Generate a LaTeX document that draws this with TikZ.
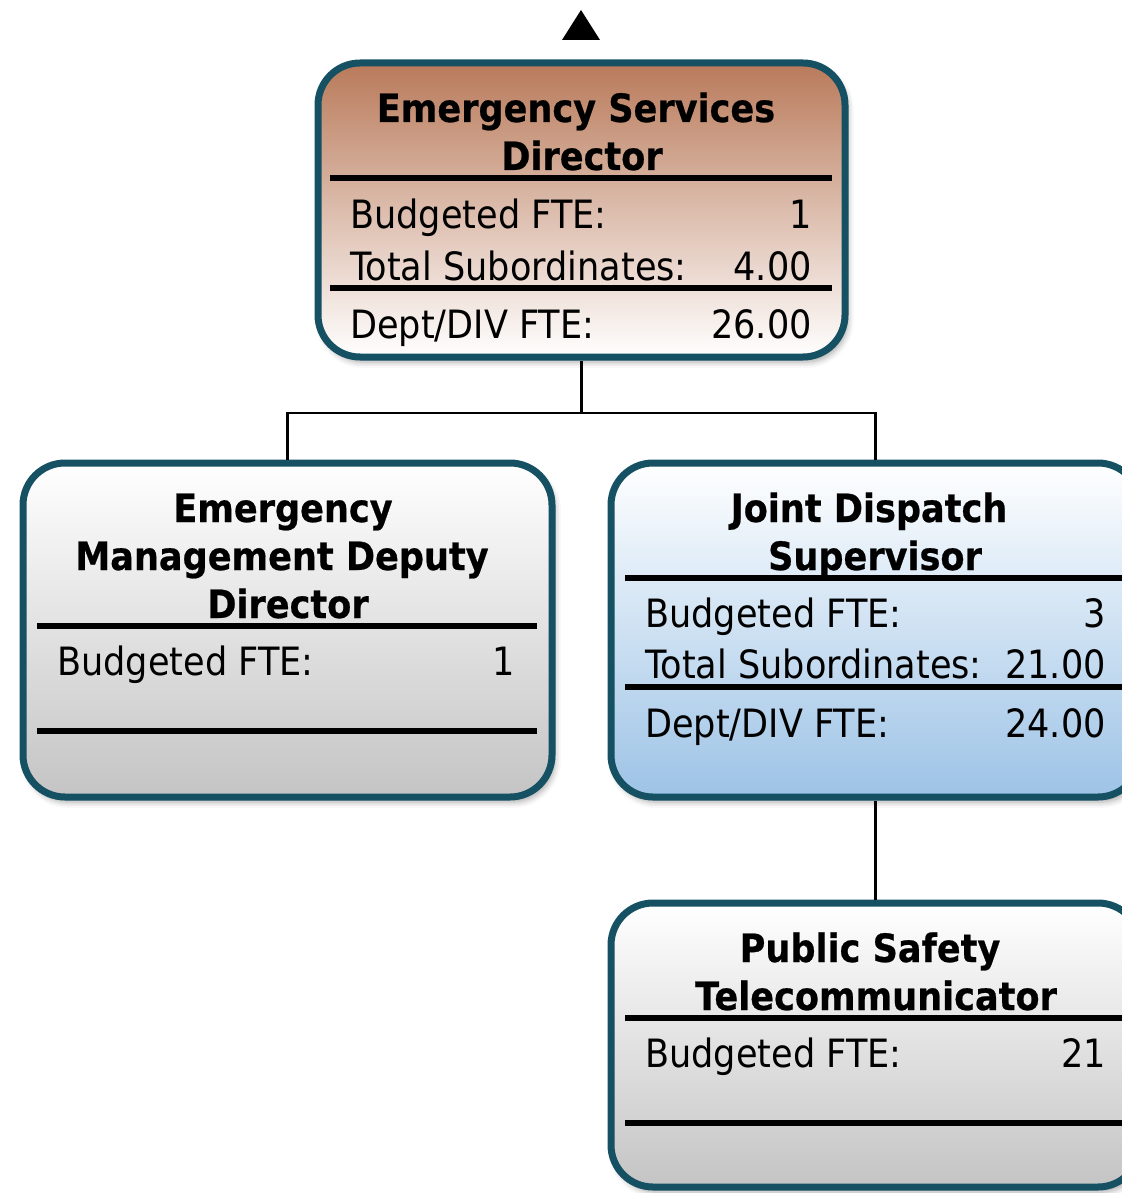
\documentclass[tikz,border=0pt]{standalone}
\usepackage{fontspec}
\setmainfont{DejaVu Sans}[FakeStretch=0.9, BoldFeatures={FakeBold=0.6}]
\usetikzlibrary{shadows.blur}
\definecolor{bord}{RGB}{21,80,99}
\definecolor{brtop}{RGB}{185,122,90}
\definecolor{bluebot}{RGB}{157,195,230}
\definecolor{greybot}{RGB}{196,196,196}
\begin{document}
\begin{tikzpicture}[x=1pt,y=-1pt,
  box/.style={draw=bord, line width=7pt, rounded corners=42pt, inner sep=0pt,
    minimum width=529pt,
    blur shadow={shadow xshift=3pt, shadow yshift=-5pt, shadow blur radius=6pt, shadow opacity=35}},
  rulel/.style={line width=6pt, black},
  ttl/.style={font=\fontsize{39}{47}\selectfont\bfseries, anchor=base, inner sep=0pt},
  lbl/.style={font=\fontsize{39}{47}\selectfont, anchor=base west, inner sep=0pt},
  val/.style={font=\fontsize{39}{47}\selectfont, anchor=base east, inner sep=0pt},
  conn/.style={line width=2.5pt, black}]
\useasboundingbox (0,0) rectangle (1121,1193);
\fill[black] (562,40) -- (581,10) -- (600,40) -- cycle;
% boxes
\node[box, top color=brtop, bottom color=white, minimum width=527pt, minimum height=294pt] (dir) at (581.5,210) {};
\node[box, top color=white, bottom color=greybot, minimum height=334pt] (dep) at (287.5,630) {};
\node[box, top color=white, bottom color=bluebot, minimum height=334pt] (sup) at (875.5,630) {};
\node[box, top color=white, bottom color=greybot, minimum height=284pt] (tel) at (875.5,1045) {};
% connectors
\coordinate (j) at (581.5,413);
\draw[conn] (dir.south) -- (j);
\draw[conn] (dep.north) |- (j) -| (sup.north);
\draw[conn] (sup.south) -- (tel.north);
% director
\node[ttl] (d1) at (576,122) {Emergency Services};
\node[ttl] (d2) at (582,170) {Director};
\draw[rulel] (330,178) -- (832,178);
\node[lbl] (d3) at (350,228) {Budgeted FTE:};
\node[val] (d4) at (812,228) {1};
\node[lbl] (d5) at (350,280) {Total Subordinates:};
\node[val] (d6) at (812,280) {4.00};
\draw[rulel] (330,288) -- (832,288);
\node[lbl] (d7) at (350,338) {Dept/DIV FTE:};
\node[val] (d8) at (812,338) {26.00};
% deputy
\node[ttl] (e1) at (283,522) {Emergency};
\node[ttl] (e2) at (282,570) {Management Deputy};
\node[ttl] (e3) at (288,618) {Director};
\draw[rulel] (37,626) -- (537,626);
\node[lbl] (e4) at (57,675) {Budgeted FTE:};
\node[val] (e5) at (515,675) {1};
\draw[rulel] (37,731) -- (537,731);
% supervisor
\node[ttl] (s1) at (869,522) {Joint Dispatch};
\node[ttl] (s2) at (875,570) {Supervisor};
\draw[rulel] (625,578) -- (1126,578);
\node[lbl] (s3) at (645,627) {Budgeted FTE:};
\node[val] (s4) at (1106,627) {3};
\node[lbl] (s5) at (645,678) {Total Subordinates:};
\node[val] (s6) at (1106,678) {21.00};
\draw[rulel] (625,687) -- (1126,687);
\node[lbl] (s7) at (645,737) {Dept/DIV FTE:};
\node[val] (s8) at (1106,737) {24.00};
% telecommunicator
\node[ttl] (t1) at (870,962) {Public Safety};
\node[ttl] (t2) at (876,1010) {Telecommunicator};
\draw[rulel] (625,1018) -- (1126,1018);
\node[lbl] (t3) at (645,1067) {Budgeted FTE:};
\node[val] (t4) at (1106,1067) {21};
\draw[rulel] (625,1123) -- (1126,1123);
\end{tikzpicture}
\end{document}
